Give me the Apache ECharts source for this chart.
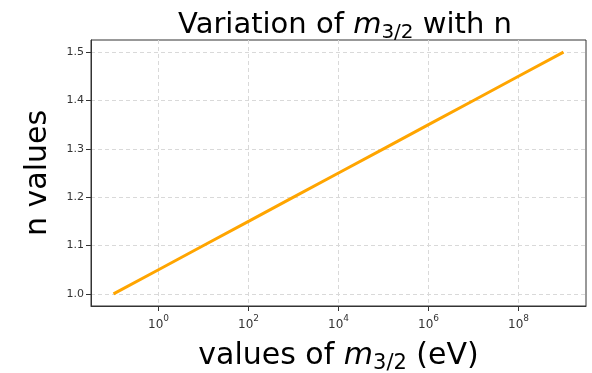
<!DOCTYPE html>
<html>
<head>
<meta charset="utf-8">
<script src="https://cdn.jsdelivr.net/npm/echarts@6/dist/echarts.min.js"></script>
<style>html,body{margin:0;padding:0;background:#fff}#c{width:592px;height:373px}</style>
</head>
<body>
<div id="c"></div>
<script>
// m_{3/2} values (eV) and n values
const mValues = [1e-1, 1e0, 1e1, 1e2, 1e3, 1e4, 1e5, 1e6, 1e7, 1e8, 1e9];
const nValues = [1.00, 1.05, 1.10, 1.15, 1.20, 1.25, 1.30, 1.35, 1.40, 1.45, 1.50];
const xTickValues = [1e0, 1e2, 1e4, 1e6, 1e8];
const yTickValues = [1.0, 1.1, 1.2, 1.3, 1.4, 1.5];

const FONT = 'DejaVu Sans';
function richSet(size) {
  return {
    t: {fontFamily: FONT, fontSize: size, fontWeight: 'normal', color: '#000', lineHeight: 38, verticalAlign: 'top', padding: [2, 0, 0, 0]},
    m: {fontFamily: FONT, fontSize: size, fontWeight: 'normal', fontStyle: 'italic', color: '#000', lineHeight: 38, verticalAlign: 'top', padding: [2, 0, 0, 0]},
    s: {fontFamily: FONT, fontSize: Math.round(size * 0.7), fontWeight: 'normal', color: '#000', lineHeight: 38, verticalAlign: 'top', padding: [14, 0, 0, 0]}
  };
}
const chart = echarts.init(document.getElementById('c'), null, {renderer: 'canvas'});
chart.setOption({
  animation: false,
  backgroundColor: '#fff',
  title: {
    text: '{t|Variation of }{m|m}{s|3/2}{t| with n}',
    left: 340, top: 4, textAlign: 'center',
    textStyle: {fontWeight: 'normal', rich: richSet(29)}
  },
  grid: {left: 91, right: 6, top: 40, bottom: 67, show: true, borderColor: '#333', borderWidth: 1,
         containLabel: false, outerBoundsMode: 'none'},
  xAxis: {
    type: 'log', logBase: 10,
    min: Math.pow(10, -1.5), max: Math.pow(10, 9.5),
    name: '{t|values of }{m|m}{s|3/2}{t| (eV)}',
    nameLocation: 'middle', nameGap: 33,
    nameTextStyle: {rich: richSet(30)},
    axisLine: {show: true, lineStyle: {color: '#333', width: 1}},
    axisTick: {show: true, inside: false, length: 5, lineStyle: {color: '#333', width: 1}, customValues: xTickValues},
    axisLabel: {
      customValues: xTickValues,
      margin: 8,
      formatter: function (v) {
        const e = Math.round(Math.log10(v));
        return '{b|10}{p|' + e + '}';
      },
      rich: {
        b: {fontFamily: FONT, fontSize: 12, color: '#333', verticalAlign: 'bottom', lineHeight: 17},
        p: {fontFamily: FONT, fontSize: 9, color: '#333', verticalAlign: 'top', lineHeight: 17, padding: [0, 0, 6, 0]}
      }
    },
    splitLine: {show: true, lineStyle: {color: '#d9d9d9', type: [4, 3], width: 1}},
    minorTick: {show: false}
  },
  yAxis: {
    type: 'value', min: 0.975, max: 1.525,
    name: 'n values', nameLocation: 'middle', nameGap: 38, nameRotate: 90,
    nameTextStyle: {fontFamily: FONT, fontSize: 30, color: '#000'},
    axisLine: {show: true, lineStyle: {color: '#333', width: 1}},
    axisTick: {show: true, inside: false, length: 5, lineStyle: {color: '#333', width: 1}, customValues: yTickValues},
    axisLabel: {
      customValues: yTickValues, margin: 7,
      fontFamily: FONT, fontSize: 11, color: '#333',
      formatter: function (v) { return v.toFixed(1); }
    },
    splitLine: {show: true, lineStyle: {color: '#d9d9d9', type: [4, 3], width: 1}}
  },
  series: [{
    type: 'line',
    data: mValues.map((m, i) => [m, nValues[i]]),
    showSymbol: false,
    lineStyle: {color: '#FFA500', width: 3},
    itemStyle: {color: '#FFA500'}
  }]
});
</script>
</body>
</html>
